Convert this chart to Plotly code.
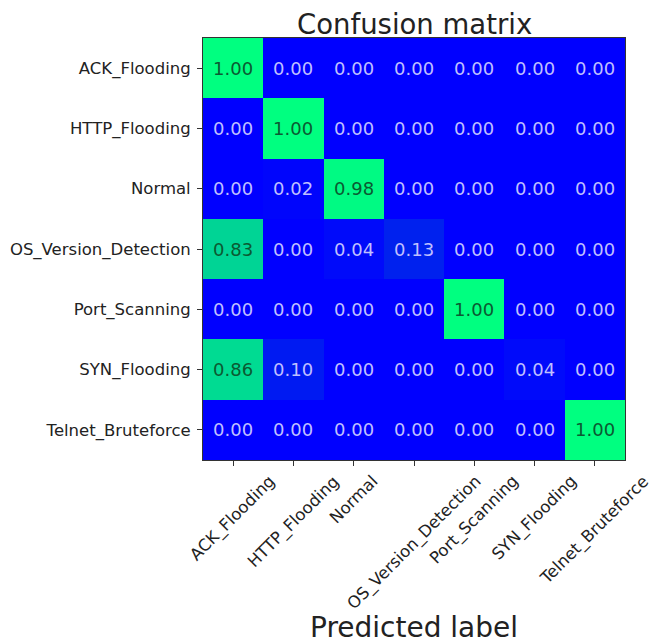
import plotly.graph_objects as go

classes = ["ACK_Flooding", "HTTP_Flooding", "Normal", "OS_Version_Detection",
           "Port_Scanning", "SYN_Flooding", "Telnet_Bruteforce"]

row_ack = [1.00, 0.00, 0.00, 0.00, 0.00, 0.00, 0.00]
row_http = [0.00, 1.00, 0.00, 0.00, 0.00, 0.00, 0.00]
row_normal = [0.00, 0.02, 0.98, 0.00, 0.00, 0.00, 0.00]
row_os = [0.83, 0.00, 0.04, 0.13, 0.00, 0.00, 0.00]
row_port = [0.00, 0.00, 0.00, 0.00, 1.00, 0.00, 0.00]
row_syn = [0.86, 0.10, 0.00, 0.00, 0.00, 0.04, 0.00]
row_telnet = [0.00, 0.00, 0.00, 0.00, 0.00, 0.00, 1.00]

matrix = [row_ack, row_http, row_normal, row_os, row_port, row_syn, row_telnet]

FONT = "DejaVu Sans"
winter = [[0.0, "rgb(0,0,255)"], [0.5, "rgb(0,128,191)"], [1.0, "rgb(0,255,128)"]]

fig = go.Figure(go.Heatmap(
    z=matrix, x=classes, y=classes,
    colorscale=winter, zmin=0, zmax=1, showscale=False,
    xgap=0, ygap=0, hoverinfo="z",
))

annotations = []
thresh = 0.5
for i, row in enumerate(matrix):
    for j, v in enumerate(row):
        annotations.append(dict(
            x=classes[j], y=classes[i], xref="x", yref="y",
            text=f"{v:.2f}", showarrow=False,
            font=dict(family=FONT, size=18,
                      color="#0b5a32" if v > thresh else "#bfbfff"),
        ))

# rotated x tick labels, centred under each tick (matplotlib style)
for name in classes:
    annotations.append(dict(
        x=name, y=0, xref="x", yref="paper", text=name, showarrow=False,
        textangle=-45, xanchor="center", yanchor="top", yshift=-9,
        font=dict(family=FONT, size=16.5, color="#222"),
    ))

annotations.append(dict(
    x=0.5, y=-0.397, xref="paper", yref="paper", text="Predicted label",
    showarrow=False, xanchor="center", yanchor="middle",
    font=dict(family=FONT, size=28, color="#222"),
))
annotations.append(dict(
    x=0.5, y=1.034, xref="paper", yref="paper", text="Confusion matrix",
    showarrow=False, xanchor="center", yanchor="middle",
    font=dict(family=FONT, size=27.5, color="#222"),
))

n = len(classes)
fig.update_layout(
    width=651, height=635,
    margin=dict(l=195, r=34, t=30, b=183, autoexpand=False),
    paper_bgcolor="white", plot_bgcolor="white",
    font=dict(family=FONT, size=16, color="#222"),
    annotations=annotations,
)
fig.update_xaxes(
    range=[-0.5, n - 0.5], autorange=False, automargin=False,
    showticklabels=False, ticks="outside", ticklen=5, tickcolor="#333",
    showline=True, linecolor="#333", linewidth=1, mirror=True, showgrid=False,
)
fig.update_yaxes(
    range=[n - 0.5, -0.5], autorange=False, automargin=False,
    ticks="outside", ticklen=5, tickcolor="#333", ticklabelstandoff=3,
    showline=True, linecolor="#333", linewidth=1, mirror=True,
    tickfont=dict(family=FONT, size=16.5, color="#222"), showgrid=False,
)

fig.write_html("out.html")
